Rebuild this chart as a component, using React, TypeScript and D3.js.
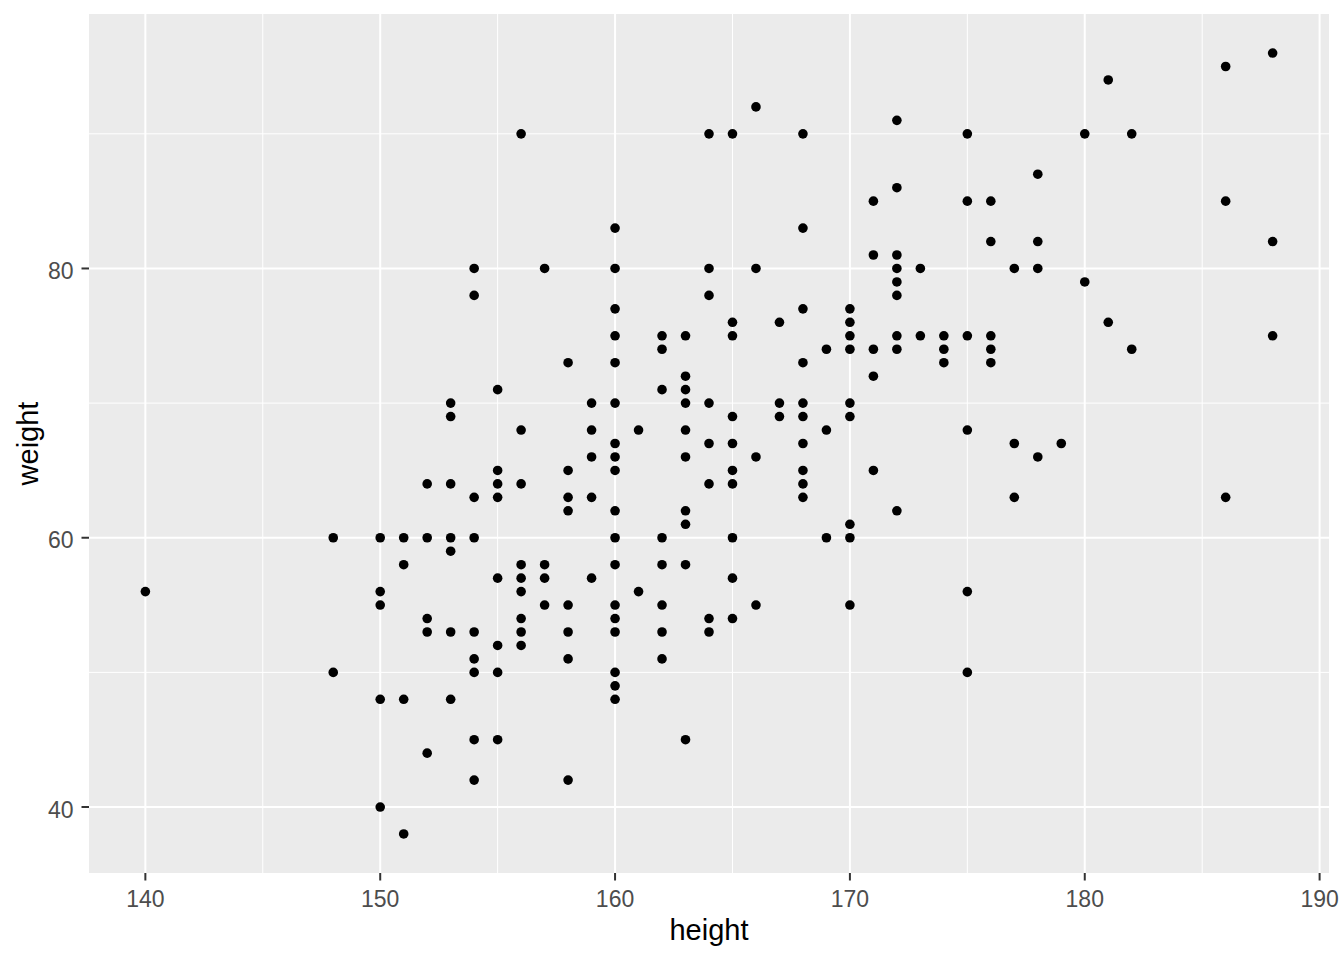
import React from "react";
import * as d3 from "d3";

const heights: number[] = [
  156, 164, 160, 154, 157, 160, 164, 154, 164, 160, 160, 162, 163, 162, 158, 160, 163, 155, 162, 163,
  153, 159, 160, 163, 164, 153, 156, 159, 161, 163, 160, 164,
  159, 160, 163, 155, 158, 160, 152, 153, 155, 156, 164, 154, 155, 158, 159, 158, 160, 163, 163,
  151, 152, 153, 154, 160, 162, 153, 151, 156, 157, 160, 162, 163, 155, 156, 157, 159, 156, 161,
  157, 158, 160, 162, 152, 156, 160, 164, 152, 153, 154, 156, 158, 160, 162, 164, 155, 156,
  154, 158, 162, 154, 155, 160, 160, 151, 153, 160, 154, 155, 163, 152, 154, 158, 151,
  148, 150, 140, 150, 150, 148, 150, 150,
  166, 165, 168, 172, 175, 172, 171, 175, 176, 168, 176, 171, 172, 166, 172, 173, 177, 172, 172,
  168, 170, 165, 167, 170, 165, 170, 172, 173, 174, 175, 176, 169, 170, 171, 172, 174, 176,
  168, 174, 176, 171, 167, 168, 170, 165, 167, 168, 170, 169, 175, 165, 168, 177,
  166, 165, 168, 171, 165, 168, 168, 177, 172, 170, 165, 169, 170, 165, 175, 166, 170, 165, 175,
  188, 186, 181, 180, 182, 178, 186, 178, 188, 178, 180, 181, 182, 188, 179, 178, 186,
];

const weights: number[] = [
  90, 90, 83, 80, 80, 80, 80, 78, 78, 77, 75, 75, 75, 74, 73, 73, 72, 71, 71, 71,
  70, 70, 70, 70, 70, 69, 68, 68, 68, 68, 67, 67,
  66, 66, 66, 65, 65, 65, 64, 64, 64, 64, 64, 63, 63, 63, 63, 62, 62, 62, 61,
  60, 60, 60, 60, 60, 60, 59, 58, 58, 58, 58, 58, 58, 57, 57, 57, 57, 56, 56,
  55, 55, 55, 55, 54, 54, 54, 54, 53, 53, 53, 53, 53, 53, 53, 53, 52, 52,
  51, 51, 51, 50, 50, 50, 49, 48, 48, 48, 45, 45, 45, 44, 42, 42, 38,
  60, 60, 56, 56, 55, 50, 48, 40,
  92, 90, 90, 91, 90, 86, 85, 85, 85, 83, 82, 81, 81, 80, 80, 80, 80, 79, 78,
  77, 77, 76, 76, 76, 75, 75, 75, 75, 75, 75, 75, 74, 74, 74, 74, 74, 74,
  73, 73, 73, 72, 70, 70, 70, 69, 69, 69, 69, 68, 68, 67, 67, 67,
  66, 65, 65, 65, 64, 64, 63, 63, 62, 61, 60, 60, 60, 57, 56, 55, 55, 54, 50,
  96, 95, 94, 90, 90, 87, 85, 82, 82, 80, 79, 76, 74, 75, 67, 66, 63,
];

const xMajor: number[] = [140, 150, 160, 170, 180, 190];
const xMinor: number[] = [145, 155, 165, 175, 185];
const yMajor: number[] = [40, 60, 80];
const yMinor: number[] = [50, 70, 90];

const W = 1344;
const H = 960;
const panel = { left: 89, right: 1329, top: 14, bottom: 873 };

export default function App() {
  const xs = d3.scaleLinear().domain([137.6, 190.4]).range([panel.left, panel.right]);
  const ys = d3.scaleLinear().domain([35.1, 98.9]).range([panel.bottom, panel.top]);
  const font = "'Liberation Sans', Arial, sans-serif";
  const points = heights.map((h, i) => ({ h, w: weights[i] }));

  return (
    <svg
      width={W}
      height={H}
      style={{ position: "absolute", left: 0, top: 0, display: "block", background: "#FFFFFF" }}
    >
      <rect
        x={panel.left}
        y={panel.top}
        width={panel.right - panel.left}
        height={panel.bottom - panel.top}
        fill="#EBEBEB"
      />
      {xMinor.map((v) => (
        <line key={"xm" + v} x1={xs(v)} x2={xs(v)} y1={panel.top} y2={panel.bottom} stroke="#FFFFFF" strokeWidth={1} />
      ))}
      {yMinor.map((v) => (
        <line key={"ym" + v} x1={panel.left} x2={panel.right} y1={ys(v)} y2={ys(v)} stroke="#FFFFFF" strokeWidth={1} />
      ))}
      {xMajor.map((v) => (
        <line key={"xM" + v} x1={xs(v)} x2={xs(v)} y1={panel.top} y2={panel.bottom} stroke="#FFFFFF" strokeWidth={2} />
      ))}
      {yMajor.map((v) => (
        <line key={"yM" + v} x1={panel.left} x2={panel.right} y1={ys(v)} y2={ys(v)} stroke="#FFFFFF" strokeWidth={2} />
      ))}
      {points.map((p, i) => (
        <circle key={"p" + i} cx={xs(p.h)} cy={ys(p.w)} r={4.8} fill="#000000" />
      ))}
      {xMajor.map((v) => (
        <g key={"xt" + v}>
          <line x1={xs(v)} x2={xs(v)} y1={panel.bottom} y2={panel.bottom + 7.5} stroke="#333333" strokeWidth={2} />
          <text x={xs(v)} y={906.5} textAnchor="middle" fontFamily={font} fontSize={23} fill="#4D4D4D">
            {v}
          </text>
        </g>
      ))}
      {yMajor.map((v) => (
        <g key={"yt" + v}>
          <line x1={panel.left - 7.5} x2={panel.left} y1={ys(v)} y2={ys(v)} stroke="#333333" strokeWidth={2} />
          <text x={73.5} y={ys(v) + 10.5} textAnchor="end" fontFamily={font} fontSize={23} fill="#4D4D4D">
            {v}
          </text>
        </g>
      ))}
      <text
        x={(panel.left + panel.right) / 2}
        y={940}
        textAnchor="middle"
        fontFamily={font}
        fontSize={29}
        fill="#000000"
      >
        height
      </text>
      <text
        transform={`translate(38, ${(panel.top + panel.bottom) / 2}) rotate(-90)`}
        textAnchor="middle"
        fontFamily={font}
        fontSize={29}
        fill="#000000"
      >
        weight
      </text>
    </svg>
  );
}
